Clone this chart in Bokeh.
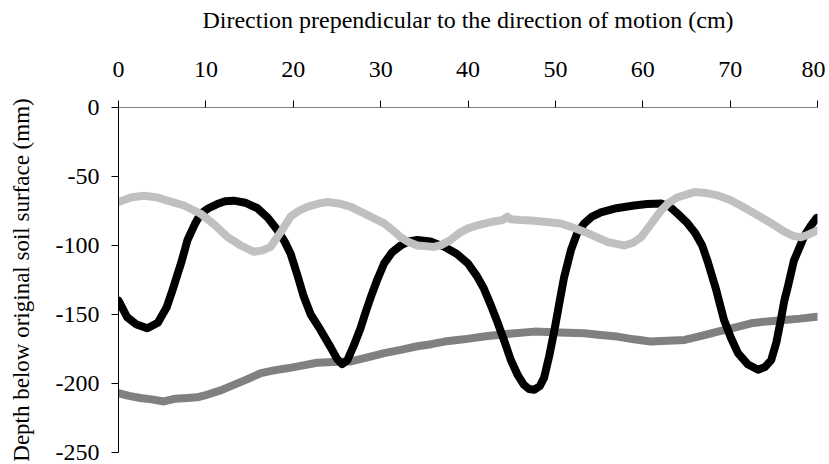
from bokeh.plotting import figure
from bokeh.models import FixedTicker, Range1d
from bokeh.embed import file_html
from bokeh.resources import INLINE

# ---- data ----
x_ticks = [0, 10, 20, 30, 40, 50, 60, 70, 80]
y_ticks = [0, -50, -100, -150, -200, -250]
y_tick_labels = ["0", "-50", "-100", "-150", "-200", "-250"]

black_x = [0, 1, 2, 3.3, 4.5, 5.5, 6.2, 7.2, 7.9, 8.7, 9.4, 10.3, 11.3, 12.2, 13.2,
           14.5, 15.9, 17.1, 18.2, 19.0, 19.7, 20.5, 21.2, 22.0, 23.1, 24.3, 25.0, 25.6,
           26.2, 26.9, 27.7, 28.3, 28.9, 29.6, 30.4, 31.3, 32.3, 33.2, 34.2, 35.7, 37.3, 38.7,
           40.0, 41.0, 41.8, 42.6, 43.4, 44.2, 44.9, 45.7, 46.4, 47.0, 47.6, 48.2, 48.7, 49.3,
           49.9, 50.5, 51.0, 51.8, 52.5, 53.3, 54.2, 55.2, 57.0, 59.0, 60.5, 62.1,
           63.1, 64.0, 65.0, 66.0, 66.8, 67.4, 68.4, 69.3, 70.1, 70.9, 72.0, 73.2,
           74.0, 74.7, 75.3, 75.8, 76.2, 76.6, 77.3, 78.5, 79.2, 79.9]
black_y = [-140, -152, -157, -160, -156, -145, -132, -112, -96, -85, -77, -73, -70, -68, -67.5,
           -69, -73, -80, -89, -97, -106, -122, -137, -150, -161, -174, -182, -186,
           -183, -173, -160, -148, -137, -125, -113, -105, -100, -97, -96, -97, -101, -106,
           -113, -122, -131, -143, -156, -170, -183, -194, -201, -204, -204.5, -202, -196, -180,
           -161, -140, -123, -103, -91, -84, -79, -76, -73, -71, -70, -69.5,
           -72, -77, -83, -91, -100, -111, -132, -154, -167, -178, -186, -190,
           -188, -183, -170, -154, -140, -130, -111, -93, -86, -80]

light_x = [0, 1.5, 2.9, 4.3, 5.6, 7.5, 9.4, 11.0, 12.5, 14.0, 15.5, 16.5, 17.4, 18.5,
           19.7, 20.6, 21.6, 23.0, 23.9, 25.2, 26.6, 28.5, 30.4, 31.4, 32.3, 33.2,
           34.2, 36.1, 37.0, 38.0, 39.0, 40.0, 41.3, 42.6, 44.0, 44.5, 44.9, 46.0,
           47.6, 49.0, 50.6, 52.0, 53.3, 54.7, 56.0, 57.9, 58.9, 59.8, 61.0, 62.1,
           63.0, 64.0, 65.9, 67.3, 68.6, 70.0, 71.2, 73.5, 75.0, 76.2, 77.2, 78.1,
           79.0, 80.0]
light_y = [-68.5, -65, -64, -65, -67.5, -71, -77, -85, -94, -100, -104.6, -103.5, -101, -91,
           -79, -75, -72, -69.5, -68.5, -69.5, -72, -78, -84, -89, -94, -97.5,
           -100, -101, -99.5, -96, -91, -87.6, -85, -83, -81.5, -79, -81, -81.5,
           -82, -83, -84, -87, -90, -94, -97.5, -100, -98, -94, -84, -74.6,
           -69, -65, -61.3, -62, -63.7, -67, -71, -79.4, -85, -90, -93, -94,
           -92, -89]

dark_x = [0, 1.2, 2.5, 3.8, 5.2, 6.5, 7.9, 9.0, 10.2, 11.7, 13.2, 14.7, 16.3, 17.8,
          19.3, 21.0, 22.7, 24.6, 26.6, 28.5, 30.4, 32.3, 34.2, 35.8, 37.3, 39.5,
          41.8, 44.7, 47.6, 50.5, 53.3, 55.2, 57.1, 59.0, 60.9, 62.8, 64.8, 66.7,
          68.6, 70.5, 72.4, 74.3, 76.2, 78.0, 79.9]
dark_y = [-207, -209, -210.5, -211.5, -213, -211, -210.5, -210, -208, -205, -201, -197, -192.5, -190.5,
          -189, -187, -185, -184.5, -184, -181, -178, -175.6, -173, -171.5, -169.6, -168,
          -166, -164, -162.4, -163, -163.6, -164.8, -166, -168, -169.6, -169, -168.4, -165.5,
          -162.4, -159.5, -156.4, -155, -154, -153, -151.6]

FONT = "'Liberation Serif', 'Times New Roman', serif"

p = figure(frame_width=699, frame_height=345,
           min_border_left=118, min_border_top=107, min_border_right=8, min_border_bottom=12,
           x_axis_location="above", output_backend="svg", toolbar_location=None,
           x_range=Range1d(0, 80), y_range=Range1d(-250, 0))

p.outline_line_color = None
p.xgrid.visible = False
p.ygrid.visible = False

p.line(dark_x, dark_y, line_color="#808080", line_width=8, line_cap="round", line_join="round")
p.line(black_x, black_y, line_color="#000000", line_width=8, line_cap="round", line_join="round")
p.line(light_x, light_y, line_color="#c0c0c0", line_width=8, line_cap="round", line_join="round")

xa = p.xaxis[0]
xa.ticker = FixedTicker(ticks=x_ticks)
xa.axis_label = "Direction prependicular to the direction of motion (cm)"
xa.axis_line_color = "#808080"
xa.major_tick_line_color = "#000000"

ya = p.yaxis[0]
ya.ticker = FixedTicker(ticks=y_ticks)
ya.major_label_overrides = {t: l for t, l in zip(y_ticks, y_tick_labels)}
ya.axis_label = "Depth below original soil surface (mm)"
ya.axis_line_color = "#000000"

for ax in (xa, ya):
    ax.minor_tick_line_color = None
    ax.major_tick_in = 0
    ax.major_tick_out = 7
    ax.major_label_text_font = FONT
    ax.major_label_text_font_size = "24px"
    ax.major_label_text_color = "#000000"
    ax.axis_label_text_font = FONT
    ax.axis_label_text_font_size = "24px"
    ax.axis_label_text_font_style = "normal"
    ax.axis_label_text_color = "#000000"

ya.axis_label_text_font_size = "23px"

xa.major_label_standoff = 24
xa.axis_label_standoff = 26
ya.major_label_standoff = 12
ya.axis_label_standoff = 19

open("out.html", "w").write(file_html(p, INLINE))
